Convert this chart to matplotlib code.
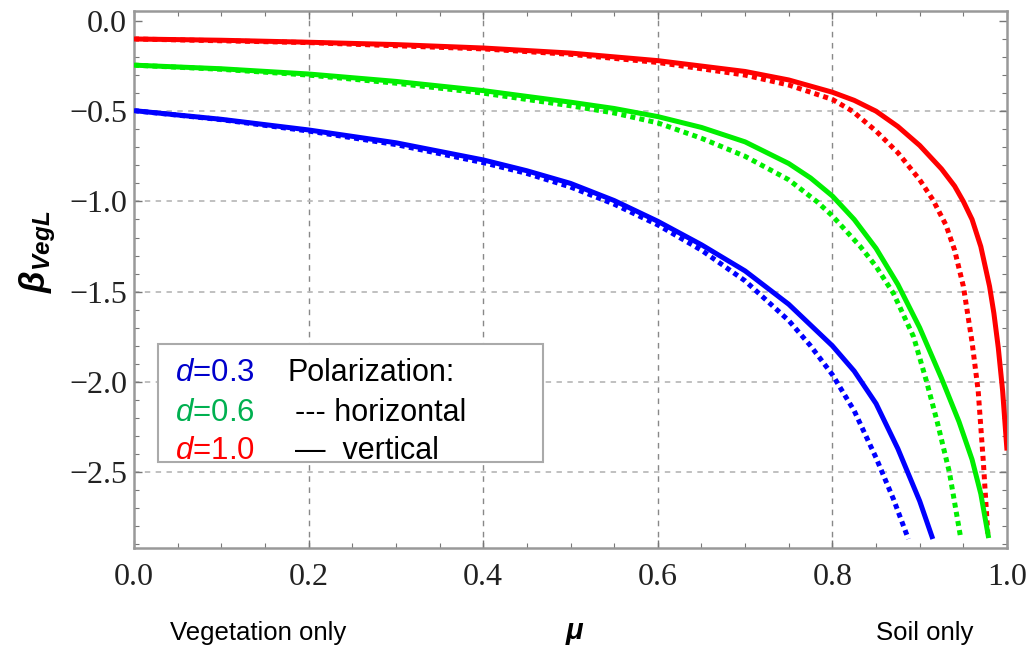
import numpy as np
import matplotlib.pyplot as plt
from matplotlib.patches import Rectangle

# values (mu, beta_VegL)
d_labels = ["0.3", "0.6", "1.0"]
line_colors = ["#0000ff", "#00ee00", "#ff0000"]
text_colors = ["#0000cc", "#00b050", "#ff0000"]

# vertical polarization (solid)
x_v03 = [0.0, 0.1, 0.2, 0.3, 0.4, 0.45, 0.5, 0.55, 0.6, 0.65, 0.7, 0.75, 0.8, 0.825, 0.85, 0.875, 0.9, 0.915]
y_v03 = [-0.497, -0.545, -0.604, -0.675, -0.77, -0.83, -0.90, -0.995, -1.11, -1.24, -1.385, -1.57, -1.80, -1.94, -2.12, -2.37, -2.66, -2.87]
x_v06 = [0.0, 0.1, 0.2, 0.3, 0.4, 0.5, 0.55, 0.6, 0.65, 0.7, 0.75, 0.775, 0.8, 0.825, 0.85, 0.875, 0.9, 0.925, 0.945, 0.96, 0.97, 0.979]
y_v06 = [-0.245, -0.265, -0.294, -0.335, -0.386, -0.45, -0.485, -0.53, -0.59, -0.67, -0.79, -0.87, -0.97, -1.10, -1.26, -1.46, -1.70, -1.98, -2.22, -2.43, -2.62, -2.865]
x_v10 = [0.0, 0.1, 0.2, 0.3, 0.4, 0.5, 0.6, 0.7, 0.75, 0.8, 0.825, 0.85, 0.875, 0.9, 0.925, 0.94, 0.95, 0.96, 0.97, 0.98, 0.985, 0.99, 0.995, 1.0]
y_v10 = [-0.10, -0.107, -0.118, -0.131, -0.15, -0.178, -0.22, -0.28, -0.327, -0.395, -0.44, -0.50, -0.585, -0.69, -0.82, -0.915, -1.0, -1.10, -1.25, -1.47, -1.62, -1.81, -2.05, -2.38]

# horizontal polarization (dotted)
x_h03 = [0.0, 0.1, 0.2, 0.3, 0.4, 0.45, 0.5, 0.55, 0.6, 0.65, 0.7, 0.75, 0.775, 0.8, 0.825, 0.85, 0.87, 0.887]
y_h03 = [-0.497, -0.547, -0.61, -0.685, -0.785, -0.845, -0.92, -1.015, -1.13, -1.27, -1.44, -1.66, -1.80, -1.96, -2.16, -2.42, -2.65, -2.87]
x_h06 = [0.0, 0.1, 0.2, 0.3, 0.4, 0.5, 0.55, 0.6, 0.65, 0.7, 0.75, 0.782, 0.8, 0.832, 0.85, 0.87, 0.893, 0.908, 0.92, 0.934, 0.947]
y_h06 = [-0.245, -0.268, -0.30, -0.345, -0.40, -0.47, -0.51, -0.565, -0.65, -0.75, -0.88, -1.0, -1.08, -1.25, -1.36, -1.51, -1.75, -2.0, -2.22, -2.5, -2.865]
x_h10 = [0.0, 0.2, 0.4, 0.5, 0.6, 0.7, 0.75, 0.8, 0.823, 0.85, 0.875, 0.9, 0.915, 0.93, 0.94, 0.95, 0.96, 0.967, 0.973, 0.978]
y_h10 = [-0.10, -0.12, -0.155, -0.185, -0.23, -0.30, -0.355, -0.435, -0.5, -0.61, -0.73, -0.88, -0.99, -1.13, -1.27, -1.47, -1.78, -2.05, -2.45, -2.84]

solid = [(x_v03, y_v03), (x_v06, y_v06), (x_v10, y_v10)]
dotted = [(x_h03, y_h03), (x_h06, y_h06), (x_h10, y_h10)]

x_ticks = [0.0, 0.2, 0.4, 0.6, 0.8, 1.0]
y_ticks = [0.0, -0.5, -1.0, -1.5, -2.0, -2.5]

plt.rcParams['mathtext.fontset'] = 'custom'
plt.rcParams['mathtext.rm'] = 'Liberation Sans'
plt.rcParams['mathtext.it'] = 'Liberation Sans:italic'
plt.rcParams['mathtext.bf'] = 'Liberation Sans:bold'
plt.rcParams['mathtext.bfit'] = 'Liberation Sans:italic:bold'

fig = plt.figure(figsize=(10.32, 6.49), dpi=100)
ax = fig.add_axes([134 / 1032, 1 - 548 / 649, 873 / 1032, 537 / 649])

# grid lines
for gx in x_ticks[1:-1]:
    ax.axvline(gx, color='#888888', lw=1.0, ls=(0, (4, 4)), zorder=0)
for gy in y_ticks[1:]:
    ax.axhline(gy, color='#bbbbbb', lw=1.3, ls=(0, (3, 3)), zorder=0)

for (xs, ys), c in zip(dotted, line_colors):
    ax.plot(xs, ys, color=c, lw=3.6, ls=(0, (1, 0.85)), dash_capstyle='butt',
            solid_joinstyle='round', zorder=2)
for (xs, ys), c in zip(solid, line_colors):
    ax.plot(xs, ys, color=c, lw=3.6, solid_capstyle='butt', solid_joinstyle='round', zorder=3)

ax.set_xlim(0, 1.0)
ax.set_ylim(-2.92, 0.055)
ax.set_xticks(x_ticks)
ax.set_yticks(y_ticks)
ax.set_xticks(np.arange(0, 1.0001, 0.05), minor=True)
ax.set_yticks(np.arange(0, -2.95, -0.1), minor=True)
ax.set_xticklabels([f"{v:.1f}" for v in x_ticks])
ax.set_yticklabels([f"{v:.1f}".replace("-", "\u2212") for v in y_ticks])
ax.tick_params(which='both', direction='in', top=True, right=True, color='#777777')
ax.tick_params(which='major', length=6, width=1)
ax.tick_params(which='minor', length=3.5, width=0.8)
ax.tick_params(axis='x', pad=11)
ax.tick_params(axis='y', pad=5)
for lab in ax.get_xticklabels() + ax.get_yticklabels():
    lab.set_family('Liberation Serif')
    lab.set_fontsize(23)
    lab.set_color('#222222')
for s in ax.spines.values():
    s.set_color('#999999')
    s.set_linewidth(1.8)

# axis labels
fig.text(38 / 1032, 1 - 252 / 649, r'$\mathbfit{\beta}_{\mathbfit{VegL}}$', rotation=90,
         ha='center', va='center', fontsize=25, family='Liberation Sans')
fig.text(575 / 1032, 1 - 633 / 649, r'$\mathbfit{\mu}$', ha='center', va='center',
         fontsize=21, family='Liberation Sans')
fig.text(258 / 1032, 1 - 633 / 649, 'Vegetation only', ha='center', va='center',
         fontsize=18.5, family='Liberation Sans')
fig.text(925 / 1032, 1 - 633 / 649, 'Soil only', ha='center', va='center',
         fontsize=18.5, family='Liberation Sans')

# legend box
box = Rectangle((158 / 1032, 1 - 462 / 649), 385 / 1032, 118 / 649, transform=fig.transFigure,
                facecolor='white', edgecolor='#aaaaaa', lw=1.5, zorder=5)
fig.patches.append(box)
row_y = [373, 413, 451]
for lbl, tc, ry in zip(d_labels, text_colors, row_y):
    fig.text(175 / 1032, 1 - ry / 649, r'$d$=' + lbl, color=tc, fontsize=22.5,
             family='Liberation Sans', va='center', ha='left', zorder=6)
fig.text(287 / 1032, 1 - row_y[0] / 649, 'Polarization:', fontsize=22,
         family='Liberation Sans', va='center', ha='left', zorder=6)
fig.text(295 / 1032, 1 - row_y[1] / 649, '--- horizontal', fontsize=22,
         family='Liberation Sans', va='center', ha='left', zorder=6)
fig.text(295 / 1032, 1 - row_y[2] / 649, '\u2014  vertical', fontsize=22,
         family='Liberation Sans', va='center', ha='left', zorder=6)

fig.savefig('out.png', dpi=100)
